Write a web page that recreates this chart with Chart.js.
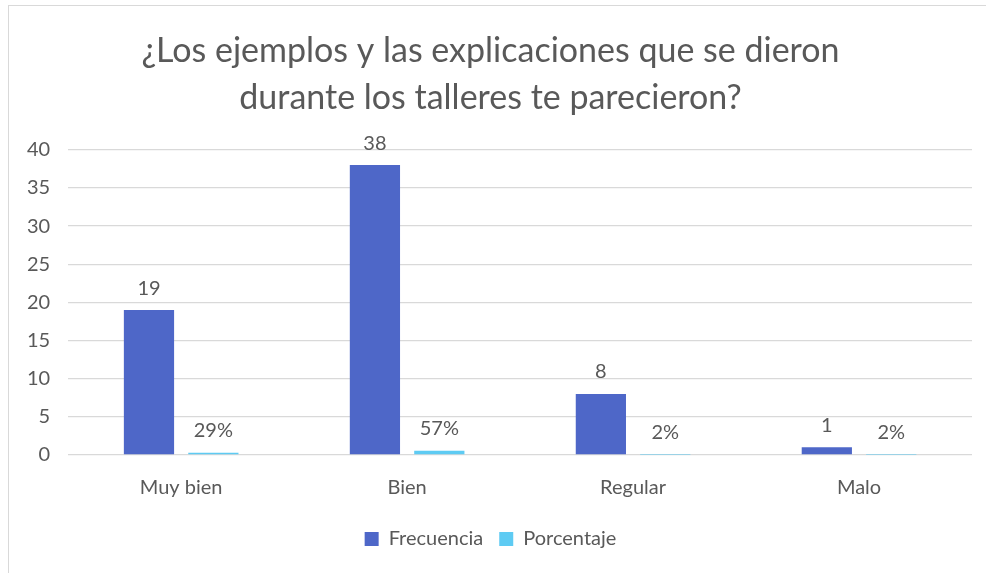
<!doctype html>
<html lang="es">
  <head>
    <meta charset="utf-8">
    <title>Ejemplos y explicaciones</title>
    <style>
      * { margin: 0; padding: 0; }
      body { background: #fff; width: 986px; height: 573px; overflow: hidden; }
      .chartBox {
        position: absolute;
        left: 8px;
        top: 5px;
        width: 990px;
        height: 580px;
        border: 1px solid #d9d9d9;
        background: #fff;
      }
      .chartBox canvas { position: absolute; left: 0; top: 0; }
    </style>
  </head>
  <body>
    <div class="chartBox">
      <canvas id="myChart" width="977" height="567"></canvas>
    </div>
    <script src="https://cdn.jsdelivr.net/npm/chart.js/dist/chart.umd.min.js"></script>
    <script>
    // data
    const categories = ['Muy bien', 'Bien', 'Regular', 'Malo'];
    const frecuencia = [19, 38, 8, 1];
    const porcentaje = [0.29, 0.57, 0.02, 0.02];
    const yTicks = [0, 5, 10, 15, 20, 25, 30, 35, 40];

    const titleLines = ['¿Los ejemplos y las explicaciones que se dieron', 'durante los talleres te parecieron?'];
    const grey = '#595959';
    const fontFamily = 'Lato, "Open Sans", sans-serif';

    // simple value labels above each bar
    const barLabels = {
      id: 'barLabels',
      afterDatasetsDraw(chart) {
        const ctx = chart.ctx;
        ctx.save();
        ctx.font = '20px ' + fontFamily;
        ctx.fillStyle = grey;
        ctx.textAlign = 'center';
        ctx.textBaseline = 'bottom';
        chart.data.datasets.forEach((ds, i) => {
          const meta = chart.getDatasetMeta(i);
          meta.data.forEach((bar, j) => {
            const v = ds.data[j];
            const txt = i === 1 ? Math.round(v * 100) + '%' : String(v);
            ctx.fillText(txt, bar.x, bar.y - 12);
          });
        });
        ctx.restore();
      }
    };

    const data = {
      labels: categories,
      datasets: [{
        label: 'Frecuencia',
        data: frecuencia,
        backgroundColor: '#4e67c8',
        categoryPercentage: 0.57,
        barPercentage: 0.78
      }, {
        label: 'Porcentaje',
        data: porcentaje,
        backgroundColor: '#5ecbf3',
        categoryPercentage: 0.57,
        barPercentage: 0.78
      }]
    };

    const config = {
      type: 'bar',
      data,
      plugins: [barLabels],
      options: {
        responsive: false,
        animation: false,
        layout: { padding: { left: 0, right: 14, top: 0, bottom: 14 } },
        plugins: {
          title: {
            display: true,
            text: titleLines,
            color: grey,
            font: { family: fontFamily, size: 34, weight: 'normal', lineHeight: 1.38 },
            padding: { top: 22, bottom: 28 }
          },
          legend: {
            position: 'bottom',
            labels: {
              color: grey,
              font: { family: fontFamily, size: 20 },
              boxWidth: 14,
              boxHeight: 14,
              padding: 16
            }
          },
          tooltip: { enabled: false }
        },
        scales: {
          x: {
            grid: { display: false },
            border: { display: false },
            ticks: { color: grey, font: { family: fontFamily, size: 20 }, padding: 13 }
          },
          y: {
            min: 0,
            max: 40,
            afterBuildTicks: (axis) => { axis.ticks = yTicks.map(v => ({ value: v })); },
            grid: { color: '#d9d9d9', drawTicks: false, lineWidth: 1.3 },
            border: { display: false },
            ticks: { color: grey, font: { family: fontFamily, size: 20 }, padding: 18 }
          }
        }
      }
    };

    const myChart = new Chart(document.getElementById('myChart'), config);
    </script>
  </body>
</html>
